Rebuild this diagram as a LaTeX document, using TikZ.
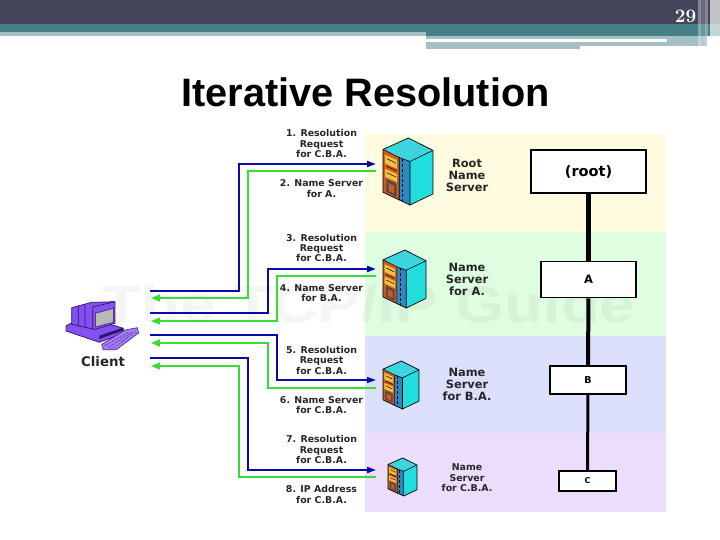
\documentclass[tikz,border=0pt]{standalone}
\usepackage{fontspec}
\usetikzlibrary{arrows.meta}
\newfontfamily\sansf{Liberation Sans}
\newfontfamily\widef{DejaVu Sans}
\definecolor{hdark}{HTML}{44455A}
\definecolor{hteal}{HTML}{467F85}
\definecolor{hlight}{HTML}{A5BFC2}
\definecolor{wblue}{HTML}{0A0AAA}
\definecolor{wgreen}{HTML}{35DD35}
\definecolor{srvcyan}{HTML}{22DEDE}
\definecolor{srvtop}{HTML}{3DD5DD}
\definecolor{srvblue}{HTML}{2C88C0}
\definecolor{srvorange}{HTML}{D2591F}
\definecolor{srvyellow}{HTML}{EBC33C}
\definecolor{pcpurple}{HTML}{8450F2}
\definecolor{pcdark}{HTML}{2E1465}
\definecolor{bandy}{HTML}{FFFBE0}
\definecolor{bandg}{HTML}{DFFDE0}
\definecolor{bandb}{HTML}{DDE0FD}
\definecolor{bandp}{HTML}{EBDDFB}
\tikzset{
  req/.style={wblue,line width=#1,-{Triangle[length=9pt,width=6pt]}},
  req/.default=2pt,
  rsp/.style={wgreen,line width=#1,{Triangle[length=9pt,width=7pt]}-},
  rsp/.default=1.3pt,
  lbl/.style={font=\widef\bfseries\fontsize{9.4}{10.4}\selectfont,align=center,inner sep=0pt,text=black!85},
  srvlbl/.style={font=\widef\bfseries\fontsize{11.4}{12}\selectfont,align=center,inner sep=0pt,text=black!85},
  dom/.style={draw=black,fill=white,line width=#1,inner sep=0pt},
  server/.pic={
    \fill[srvtop] (0,34)--(75,0)--(148,37)--(80,70)--cycle;
    \fill[srvcyan] (80,70)--(148,37)--(148,167)--(80,200)--cycle;
    \fill[srvblue] (48,58)--(80,70)--(80,200)--(48,185)--cycle;
    \fill[srvorange] (0,34)--(48,58)--(48,185)--(0,162)--cycle;
    \fill[srvyellow] (6,50)--(42,66)--(42,92)--(6,76)--cycle;
    \fill[srvyellow] (6,92)--(42,108)--(42,132)--(6,116)--cycle;
    \fill[black!70] (10,122)--(40,137)--(40,176)--(10,160)--cycle;
    \fill[srvorange] (17,135)--(33,143)--(33,166)--(17,158)--cycle;
    \draw[black,line width=.7pt] (0,34)--(75,0)--(148,37)--(148,167)--(80,200)--(48,185)--(0,162)--cycle;
    \draw[black,line width=.6pt] (0,34)--(48,58)--(80,70)--(148,37) (80,70)--(80,200) (48,58)--(48,185);
    \draw[black,line width=.5pt,densely dashed] (58,62)--(58,190);
    \draw[black,line width=.5pt] (12,62)--(38,75) (12,104)--(38,116) (10,84)--(40,98);
  }
}
\begin{document}
\begin{tikzpicture}[x=1pt,y=-1pt]
\useasboundingbox (0,0) rectangle (720,540);
% slide header
\fill[hdark] (0,0) rectangle (720,24);
\fill[hteal] (0,24) rectangle (720,32);
\fill[hlight] (0,32) rectangle (426,36);
\fill[hteal] (426,32) rectangle (720,36);
\fill[hlight] (426,36) rectangle (707,39);
\fill[hlight] (426,42) rectangle (707,46);
\fill[hlight] (426,46) rectangle (580,49);
\fill[hlight] (667,39) rectangle (707,42);
\fill[white,opacity=.35] (698,0) rectangle (701,46);
\fill[white,opacity=.2] (701,0) rectangle (705,46);
\fill[white,opacity=.35] (705,0) rectangle (708,46);
\fill[white,opacity=.68] (710,0) rectangle (720,46);
\fill[white,opacity=.55] (707,36) rectangle (720,46);
\node[text=white,inner sep=0pt,font=\bfseries\fontsize{19}{19}\selectfont] (num) at (685.5,16) {\oldstylenums{29}};
% title
\node[inner sep=0pt,anchor=base,font=\sansf\bfseries\fontsize{39.7}{40}\selectfont] (title) at (365.5,107) {Iterative Resolution};
% bands
\fill[bandy] (365,134) rectangle (666,232);
\fill[bandg] (365,232) rectangle (666,336);
\fill[bandb] (365,336) rectangle (666,433);
\fill[bandp] (365,433) rectangle (666,512);
% watermark
\node[inner sep=0pt,text=black,text opacity=.04,font=\sansf\bfseries\fontsize{52}{52}\selectfont] (mark) at (369,304) {\scalebox{1.22}[1]{The TCP/IP Guide}};
% domain tree
\node[dom=1.8pt,minimum width=115pt,minimum height=43pt,font=\widef\bfseries\fontsize{14.5}{15}\selectfont] (root) at (588.5,171.5) {(root)};
\node[dom=1.6pt,minimum width=95pt,minimum height=36pt,font=\widef\bfseries\fontsize{11.5}{12}\selectfont] (a) at (588.5,279.5) {A};
\node[dom=1.6pt,minimum width=76pt,minimum height=28pt,font=\widef\bfseries\fontsize{9.5}{10}\selectfont] (b) at (588,380) {B};
\node[dom=1.4pt,minimum width=57pt,minimum height=20pt,font=\widef\bfseries\fontsize{8}{9}\selectfont] (c) at (587.5,481) {C};
\draw[line width=5pt] (root)--(a);
\draw[line width=4pt] (a)--(b);
\draw[line width=3pt] (b)--(c);
% servers
\pic[xscale=.3378,yscale=.335] at (383,138) {server};
\pic[xscale=.2905,yscale=.29] at (383,250) {server};
\pic[xscale=.2432,yscale=.24] at (383,361) {server};
\pic[xscale=.196,yscale=.19] at (388,458) {server};
% wire ends
\coordinate (c1) at (150,291); \coordinate (s1) at (376,164);
\coordinate (c2) at (151,298); \coordinate (s2) at (376,171);
\coordinate (c3) at (150,313); \coordinate (s3) at (376,269);
\coordinate (c4) at (151,321); \coordinate (s4) at (376,276);
\coordinate (c5) at (150,335); \coordinate (s5) at (376,380);
\coordinate (c6) at (151,343); \coordinate (s6) at (376,388);
\coordinate (c7) at (150,358); \coordinate (s7) at (376,470);
\coordinate (c8) at (151,366); \coordinate (s8) at (376,477);
\draw[req] (c1)-|(239,164)--(s1);
\draw[rsp] (c2)-|(248,171)--(s2);
\draw[req] (c3)-|(268,269)--(s3);
\draw[rsp] (c4)-|(277,276)--(s4);
\draw[req=1.3pt] (c5)-|(277,380)--(s5);
\draw[rsp=2pt] (c6)-|(268,388)--(s6);
\draw[req] (c7)-|(248,470)--(s7);
\draw[rsp] (c8)-|(239,477)--(s8);
% wire labels
\node[lbl] (l1) at (321.5,143.7) {1. Resolution\\Request\\for C.B.A.};
\node[lbl] (l2) at (321.5,188.5) {2. Name Server\\for A.};
\node[lbl] (l3) at (321.5,248) {3. Resolution\\Request\\for C.B.A.};
\node[lbl] (l4) at (321.5,293) {4. Name Server\\for B.A.};
\node[lbl] (l5) at (321.5,360.3) {5. Resolution\\Request\\for C.B.A.};
\node[lbl] (l6) at (321.5,405) {6. Name Server\\for C.B.A.};
\node[lbl] (l7) at (321.5,449.7) {7. Resolution\\Request\\for C.B.A.};
\node[lbl] (l8) at (321.5,494.5) {8. IP Address\\for C.B.A.};
% server labels
\node[srvlbl] (n1) at (467,175) {Root\\Name\\Server};
\node[srvlbl] (n2) at (467,279) {Name\\Server\\for A.};
\node[srvlbl] (n3) at (467,384) {Name\\Server\\for B.A.};
\node[lbl,font=\widef\bfseries\fontsize{9.4}{10.6}\selectfont] (n4) at (467,478) {Name\\Server\\for C.B.A.};
% client
\begin{scope}[shift={(60,295)},x=.3333pt,y=-.3333pt]
\fill[pcpurple,draw=pcdark,line width=.7pt] (18,92)--(60,72)--(165,92)--(190,100)--(190,115)--(118,142)--(18,108)--cycle;
\fill[pcpurple,draw=pcdark,line width=.7pt] (35,38)--(95,22)--(165,20)--(165,85)--(105,103)--(35,88)--cycle;
\draw[pcdark,line width=.7pt] (55,33)--(55,92) (75,28)--(75,96) (98,36)--(98,102) (98,36)--(165,20);
\fill[black!28,draw=pcdark,line width=.5pt] (106,55)--(160,40)--(160,82)--(106,96)--cycle;
\fill[pcdark] (118,122)--(190,98)--(190,106)--(118,132)--cycle;
\fill[pcpurple!75] (125,148)--(195,105)--(232,98)--(236,114)--(168,165)--(130,165)--cycle;
\draw[pcdark,line width=.6pt,densely dotted] (135,152)--(205,112) (145,158)--(215,112) (155,162)--(228,110);
\draw[pcdark,line width=.5pt] (125,148)--(195,105)--(232,98)--(236,114)--(168,165)--(130,165)--cycle;
\end{scope}
\node[inner sep=0pt,font=\widef\bfseries\fontsize{13.3}{14}\selectfont,text=black!85] (client) at (103,361.5) {Client};
\end{tikzpicture}
\end{document}
